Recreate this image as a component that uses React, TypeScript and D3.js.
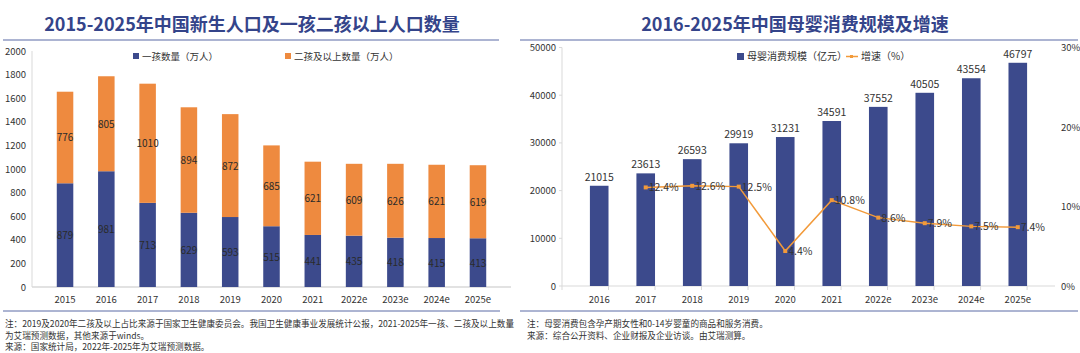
import { useEffect, useRef } from "react";
import * as d3 from "d3";

const birthYears = ["2015", "2016", "2017", "2018", "2019", "2020", "2021", "2022e", "2023e", "2024e", "2025e"];
const firstChild = [879, 981, 713, 629, 593, 515, 441, 435, 418, 415, 413];
const secondPlus = [776, 805, 1010, 894, 872, 685, 621, 609, 626, 621, 619];
const birthTicks = [0, 200, 400, 600, 800, 1000, 1200, 1400, 1600, 1800, 2000];

const marketYears = ["2016", "2017", "2018", "2019", "2020", "2021", "2022e", "2023e", "2024e", "2025e"];
const marketSize = [21015, 23613, 26593, 29919, 31231, 34591, 37552, 40505, 43554, 46797];
const growthRate = [null, 12.4, 12.6, 12.5, 4.4, 10.8, 8.6, 7.9, 7.5, 7.4];
const sizeTicks = [0, 10000, 20000, 30000, 40000, 50000];
const rateTicks = [0, 10, 20, 30];

const BLUE = "#3c4a8c";
const ORANGE = "#ee8a3f";
const LINE_ORANGE = "#f29a3a";
const TITLE = "#34448a";
const FONT = "'Noto Sans CJK SC', 'Noto Sans', sans-serif";

export default function App() {
  const svgRef = useRef<SVGSVGElement>(null);

  useEffect(() => {
    const svg = d3.select(svgRef.current);
    svg.selectAll("*").remove();
    svg.style("font-family", FONT);

    svg.append("rect").attr("width", 1080).attr("height", 353).attr("fill", "#fff");

    // ---------- left chart ----------
    svg.append("text")
      .attr("x", 252).attr("y", 31)
      .attr("text-anchor", "middle")
      .attr("font-size", 18).attr("font-weight", "bold")
      .attr("fill", TITLE)
      .text("2015-2025年中国新生人口及一孩二孩以上人口数量");
    svg.append("line").attr("x1", 3).attr("x2", 499).attr("y1", 40).attr("y2", 40)
      .attr("stroke", "#5b6aa5").attr("stroke-width", 1.2);

    const x1 = d3.scaleBand().domain(birthYears).range([32, 511]).padding(0.6);
    const y1 = d3.scaleLinear().domain([0, 2000]).range([287, 51]);

    const g1 = svg.append("g");
    g1.append("line").attr("x1", 32).attr("x2", 32).attr("y1", 51).attr("y2", 287)
      .attr("stroke", "#d9d9d9");
    g1.append("line").attr("x1", 32).attr("x2", 511).attr("y1", 287).attr("y2", 287)
      .attr("stroke", "#d9d9d9").attr("stroke-width", 1.5);

    g1.selectAll(".ytick").data(birthTicks).join("text")
      .attr("x", 26).attr("y", (d) => y1(d) + 3.5)
      .attr("text-anchor", "end").attr("font-size", 9.5).attr("fill", "#333")
      .text((d) => d);

    g1.selectAll(".xlab").data(birthYears).join("text")
      .attr("x", (d) => x1(d)! + x1.bandwidth() / 2).attr("y", 303)
      .attr("text-anchor", "middle").attr("font-size", 9.5).attr("fill", "#333")
      .text((d) => d);

    const bw1 = x1.bandwidth();
    birthYears.forEach((yr, i) => {
      const a = firstChild[i];
      const b = secondPlus[i];
      const bx = x1(yr)!;
      g1.append("rect").attr("x", bx).attr("width", bw1)
        .attr("y", y1(a)).attr("height", y1(0) - y1(a)).attr("fill", BLUE);
      g1.append("rect").attr("x", bx).attr("width", bw1)
        .attr("y", y1(a + b)).attr("height", y1(a) - y1(a + b)).attr("fill", ORANGE);
      g1.append("text").attr("x", bx + bw1 / 2).attr("y", (y1(0) + y1(a)) / 2 + 4)
        .attr("text-anchor", "middle").attr("font-size", 10).attr("fill", "#2a2a2a").text(a);
      g1.append("text").attr("x", bx + bw1 / 2).attr("y", (y1(a) + y1(a + b)) / 2 + 4)
        .attr("text-anchor", "middle").attr("font-size", 10).attr("fill", "#2a2a2a").text(b);
    });

    const leg1 = [
      { name: "一孩数量（万人）", color: BLUE, x: 133 },
      { name: "二孩及以上数量（万人）", color: ORANGE, x: 285 },
    ];
    leg1.forEach((l) => {
      g1.append("rect").attr("x", l.x).attr("y", 53).attr("width", 6).attr("height", 6).attr("fill", l.color);
      g1.append("text").attr("x", l.x + 9).attr("y", 59.5).attr("font-size", 9.5).attr("fill", "#333").text(l.name);
    });

    svg.append("line").attr("x1", 3).attr("x2", 500).attr("y1", 311).attr("y2", 311)
      .attr("stroke", "#5b6aa5").attr("stroke-width", 1);
    const notes1 = [
      "注：2019及2020年二孩及以上占比来源于国家卫生健康委员会。我国卫生健康事业发展统计公报，2021-2025年一孩、二孩及以上数量",
      "为艾瑞预测数据，其他来源于winds。",
      "来源：国家统计局，2022年-2025年为艾瑞预测数据。",
    ];
    notes1.forEach((t, i) => {
      svg.append("text").attr("x", 5).attr("y", 327 + i * 11.5)
        .attr("font-size", 8.6).attr("fill", "#333").text(t);
    });

    // ---------- right chart ----------
    svg.append("text")
      .attr("x", 795).attr("y", 31)
      .attr("text-anchor", "middle")
      .attr("font-size", 18).attr("font-weight", "bold")
      .attr("fill", TITLE)
      .text("2016-2025年中国母婴消费规模及增速");
    svg.append("line").attr("x1", 520).attr("x2", 1078).attr("y1", 40).attr("y2", 40)
      .attr("stroke", "#5b6aa5").attr("stroke-width", 1.2);

    const x2 = d3.scaleBand().domain(marketYears).range([562, 1055]).padding(0.6);
    const y2 = d3.scaleLinear().domain([0, 50000]).range([286, 47.5]);
    const yr2 = d3.scaleLinear().domain([0, 30]).range([286, 47.5]);

    const g2 = svg.append("g");
    g2.append("line").attr("x1", 562).attr("x2", 562).attr("y1", 47.5).attr("y2", 286)
      .attr("stroke", "#d9d9d9");
    g2.selectAll(".ytk").data(sizeTicks).join("line")
      .attr("x1", 559).attr("x2", 562).attr("y1", (d) => y2(d)).attr("y2", (d) => y2(d))
      .attr("stroke", "#d9d9d9");
    g2.append("line").attr("x1", 562).attr("x2", 1055).attr("y1", 286).attr("y2", 286)
      .attr("stroke", "#d9d9d9").attr("stroke-width", 1.2);
    const step2 = x2.step();
    g2.selectAll(".xtk").data(d3.range(marketYears.length + 1)).join("line")
      .attr("x1", (d) => 562 + d * step2).attr("x2", (d) => 562 + d * step2)
      .attr("y1", 286).attr("y2", 290).attr("stroke", "#d9d9d9");

    g2.selectAll(".yl").data(sizeTicks).join("text")
      .attr("x", 556).attr("y", (d) => y2(d) + 3.5)
      .attr("text-anchor", "end").attr("font-size", 9.5).attr("fill", "#333")
      .text((d) => d);
    g2.selectAll(".yr").data(rateTicks).join("text")
      .attr("x", 1061).attr("y", (d) => yr2(d) + 3.5)
      .attr("font-size", 9.5).attr("fill", "#333")
      .text((d) => d + "%");
    g2.selectAll(".xl").data(marketYears).join("text")
      .attr("x", (d) => x2(d)! + x2.bandwidth() / 2).attr("y", 303)
      .attr("text-anchor", "middle").attr("font-size", 9.5).attr("fill", "#333")
      .text((d) => d);

    g2.selectAll(".bar").data(marketSize).join("rect")
      .attr("x", (_, i) => x2(marketYears[i])!)
      .attr("width", x2.bandwidth())
      .attr("y", (d) => y2(d))
      .attr("height", (d) => y2(0) - y2(d))
      .attr("fill", BLUE);
    g2.selectAll(".bv").data(marketSize).join("text")
      .attr("x", (_, i) => x2(marketYears[i])! + x2.bandwidth() / 2)
      .attr("y", (d) => y2(d) - 5)
      .attr("text-anchor", "middle").attr("font-size", 10.5).attr("fill", "#333")
      .text((d) => d);

    const pts = marketYears
      .map((yr, i) => ({ yr, v: growthRate[i] }))
      .filter((p) => p.v !== null) as { yr: string; v: number }[];
    const cx = (p: { yr: string }) => x2(p.yr)! + x2.bandwidth() / 2;
    const line = d3.line<{ yr: string; v: number }>().x(cx).y((p) => yr2(p.v));
    g2.append("path").datum(pts).attr("d", line)
      .attr("fill", "none").attr("stroke", LINE_ORANGE).attr("stroke-width", 1.5);
    g2.selectAll(".pt").data(pts).join("rect")
      .attr("x", (p) => cx(p) - 2).attr("y", (p) => yr2(p.v) - 2)
      .attr("width", 4).attr("height", 4).attr("fill", LINE_ORANGE);
    g2.selectAll(".pl").data(pts).join("text")
      .attr("x", (p) => cx(p) + 3).attr("y", (p) => yr2(p.v) + 4)
      .attr("font-size", 10.5).attr("fill", "#333")
      .text((p) => p.v.toFixed(1) + "%");

    g2.append("rect").attr("x", 737).attr("y", 53).attr("width", 7).attr("height", 7).attr("fill", BLUE);
    g2.append("text").attr("x", 747).attr("y", 60).attr("font-size", 10).attr("fill", "#333")
      .text("母婴消费规模（亿元）");
    g2.append("line").attr("x1", 846).attr("x2", 858).attr("y1", 56.5).attr("y2", 56.5)
      .attr("stroke", LINE_ORANGE).attr("stroke-width", 1.5);
    g2.append("rect").attr("x", 850).attr("y", 55).attr("width", 3).attr("height", 3).attr("fill", LINE_ORANGE);
    g2.append("text").attr("x", 861).attr("y", 60).attr("font-size", 10).attr("fill", "#333")
      .text("增速（%）");

    svg.append("line").attr("x1", 520).attr("x2", 1078).attr("y1", 311).attr("y2", 311)
      .attr("stroke", "#5b6aa5").attr("stroke-width", 1);
    const notes2 = [
      "注：母婴消费包含孕产期女性和0-14岁婴童的商品和服务消费。",
      "来源：综合公开资料、企业财报及企业访谈。由艾瑞测算。",
    ];
    notes2.forEach((t, i) => {
      svg.append("text").attr("x", 527).attr("y", 327 + i * 11.5)
        .attr("font-size", 8.6).attr("fill", "#333").text(t);
    });
  }, []);

  return (
    <div style={{ position: "absolute", left: 0, top: 0 }}>
      <svg ref={svgRef} width={1080} height={353} style={{ display: "block" }} />
    </div>
  );
}
